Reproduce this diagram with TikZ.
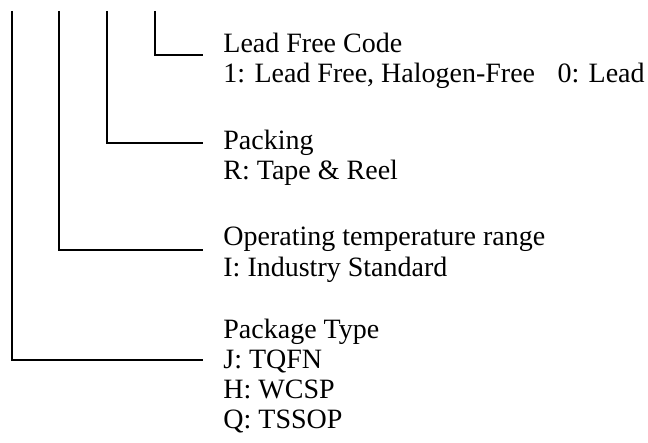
\documentclass[tikz,border=0pt]{standalone}
\usepackage{fontspec}
\setmainfont{Liberation Serif}
\usepackage{tikz}
\tikzstyle{codetext} = [inner sep=0pt, anchor=base west,
    font=\fontsize{14pt}{15pt}\selectfont]
\tikzstyle{lead} = [line width=1pt]

\begin{document}
\begin{tikzpicture}[x=0.5pt, y=-0.5pt]
  \useasboundingbox (0,0) rectangle (648,443);
  % tops of the four leads
  \coordinate (t1) at (155,11);
  \coordinate (t2) at (107,11);
  \coordinate (t3) at (59,11);
  \coordinate (t4) at (11.5,11);
  % text blocks
  \node [codetext] (lfc) at (223,53) {Lead Free Code};
  \node [codetext] (lfc1) at ([yshift=-15pt]lfc.base west) {1: Lead Free, Halogen-Free\hspace{0.8em}0: Lead};
  \node [codetext] (pk) at (223,150) {Packing};
  \node [codetext] (pk1) at ([yshift=-15pt]pk.base west) {R: Tape \& Reel};
  \node [codetext] (op) at (223,246) {Operating temperature range};
  \node [codetext] (op1) at ([yshift=-15.5pt]op.base west) {I: Industry Standard};
  \node [codetext] (pt) at (223,338) {Package Type};
  \node [codetext] (pt1) at ([yshift=-15pt]pt.base west) {J: TQFN};
  \node [codetext] (pt2) at ([yshift=-15pt]pt1.base west) {H: WCSP};
  \node [codetext] (pt3) at ([yshift=-15pt]pt2.base west) {Q: TSSOP};
  % ends of the leads
  \coordinate (e1) at ([xshift=-10pt,yshift=-1pt]lfc.base west);
  \coordinate (e2) at ([xshift=-10pt,yshift=3.7pt]pk.base west);
  \coordinate (e3) at ([xshift=-10pt,yshift=-2.2pt]op.base west);
  \coordinate (e4) at ([xshift=-10pt,yshift=4pt]pt1.base west);
  \draw [lead] (t1) |- (e1);
  \draw [lead] (t2) |- (e2);
  \draw [lead] (t3) |- (e3);
  \draw [lead] (t4) |- (e4);
\end{tikzpicture}
\end{document}
